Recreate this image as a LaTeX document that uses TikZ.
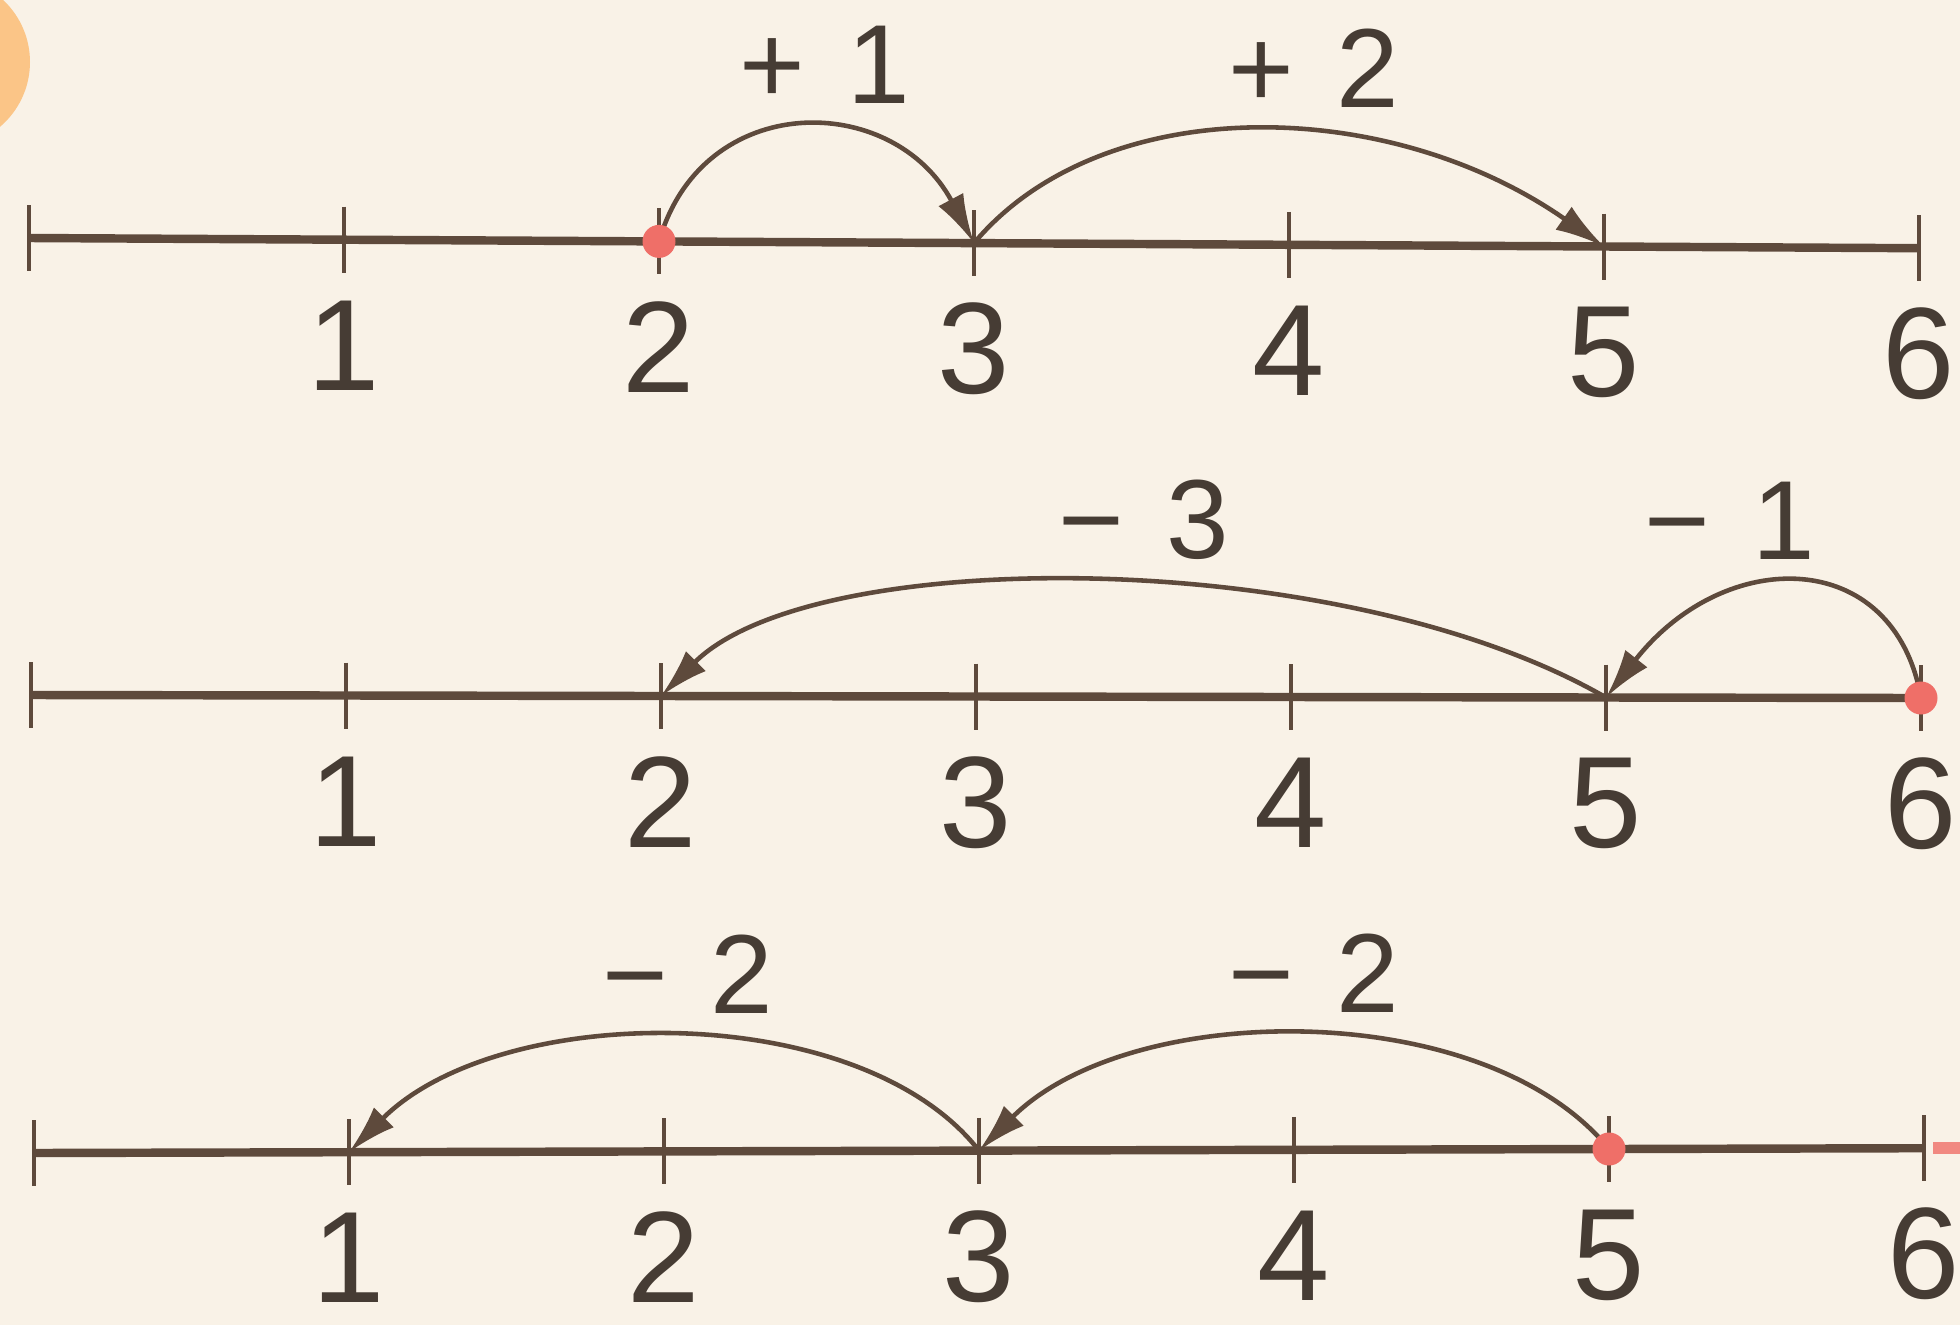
\documentclass[tikz,border=0pt]{standalone}
\usepackage{fontspec}
\setmainfont{Liberation Sans}
\usetikzlibrary{arrows.meta,calc}

\definecolor{nlpaper}{HTML}{F9F2E7}
\definecolor{nlaxis}{HTML}{5E4A3C}
\definecolor{nltext}{HTML}{463C34}
\definecolor{nldot}{HTML}{EF6F68}
\definecolor{nlbadge}{HTML}{FBC587}

\begin{document}
\begin{tikzpicture}[x=1cm, y=1cm,
    axis/.style={nlaxis, line width=2.4pt},
    tick/.style={nlaxis, line width=1.3pt},
    hop/.style={nlaxis, line width=1.3pt, -{Latex[length=14pt, width=8pt]}},
    startdot/.style={circle, fill=nldot, inner sep=0pt, minimum size=0.33cm},
    num/.style={text=nltext, inner sep=0pt, font=\fontsize{37}{40}\selectfont},
    oplbl/.style={text=nltext, inner sep=0pt, font=\fontsize{32}{36}\selectfont}]

\useasboundingbox (0,0) rectangle (19.6,-13.25);
\fill[nlpaper] (0,0) rectangle (19.6,-13.25);
\clip (0,0) rectangle (19.6,-13.25);
\fill[nlbadge] (-0.55,-0.62) circle (0.85);

% --- three number lines --  row/y at zero/x of zero/drop per step ---------
\foreach \r/\ly/\xo/\s in {1/-2.38/0.29/0.017, 2/-6.95/0.31/0.005, 3/-11.53/0.34/-0.008}
{
  \foreach \k in {0,...,6}
    \coordinate (r\r t\k) at ({\xo+3.15*\k},{\ly-\s*\k});
  \draw[axis] (r\r t0) -- (r\r t6);
  \foreach \k in {0,...,6}
    \draw[tick] ($(r\r t\k)+(0,0.33)$) -- ($(r\r t\k)+(0,-0.33)$);
  \foreach \k in {1,...,6}
    \node[num] (r\r n\k) at ($(r\r t\k)+(0,-1.06)$) {\k};
}

% --- hops --  row/from/to/out angle/in angle/label shift/label -------------
\foreach \r/\a/\b/\ao/\bi/\dx/\txt in {%
    1/2/3/74/118/0.08/{+\hspace{.38em}1},
    1/3/5/50/145/0.25/{+\hspace{.38em}2},
    2/5/2/150/45/0.10/{−\hspace{.38em}3},
    2/6/5/100/52/-0.34/{−\hspace{.38em}1},
    3/3/1/128/45/0.24/{−\hspace{.38em}2},
    3/5/3/129/45/0.20/{−\hspace{.38em}2}}
{
  \pgfmathsetmacro{\la}{1.52/sin(\ao)}
  \pgfmathsetmacro{\lb}{1.52/sin(\bi)}
  \draw[hop] (r\r t\a) .. controls +(\ao:\la) and +(\bi:\lb) .. (r\r t\b);
  \node[oplbl] (r\r op\a) at ($(r\r t\a)!0.5!(r\r t\b)+(\dx,1.77)$) {\txt};
}

% --- where each row starts ---------------------------------------------------
\node[startdot] (s1) at (r1t2) {};
\node[startdot] (s2) at (r2t6) {};
\node[startdot] (s3) at (r3t5) {};

\fill[nldot!80!nlpaper] (19.33,-11.42) rectangle (19.6,-11.54);
\end{tikzpicture}
\end{document}
